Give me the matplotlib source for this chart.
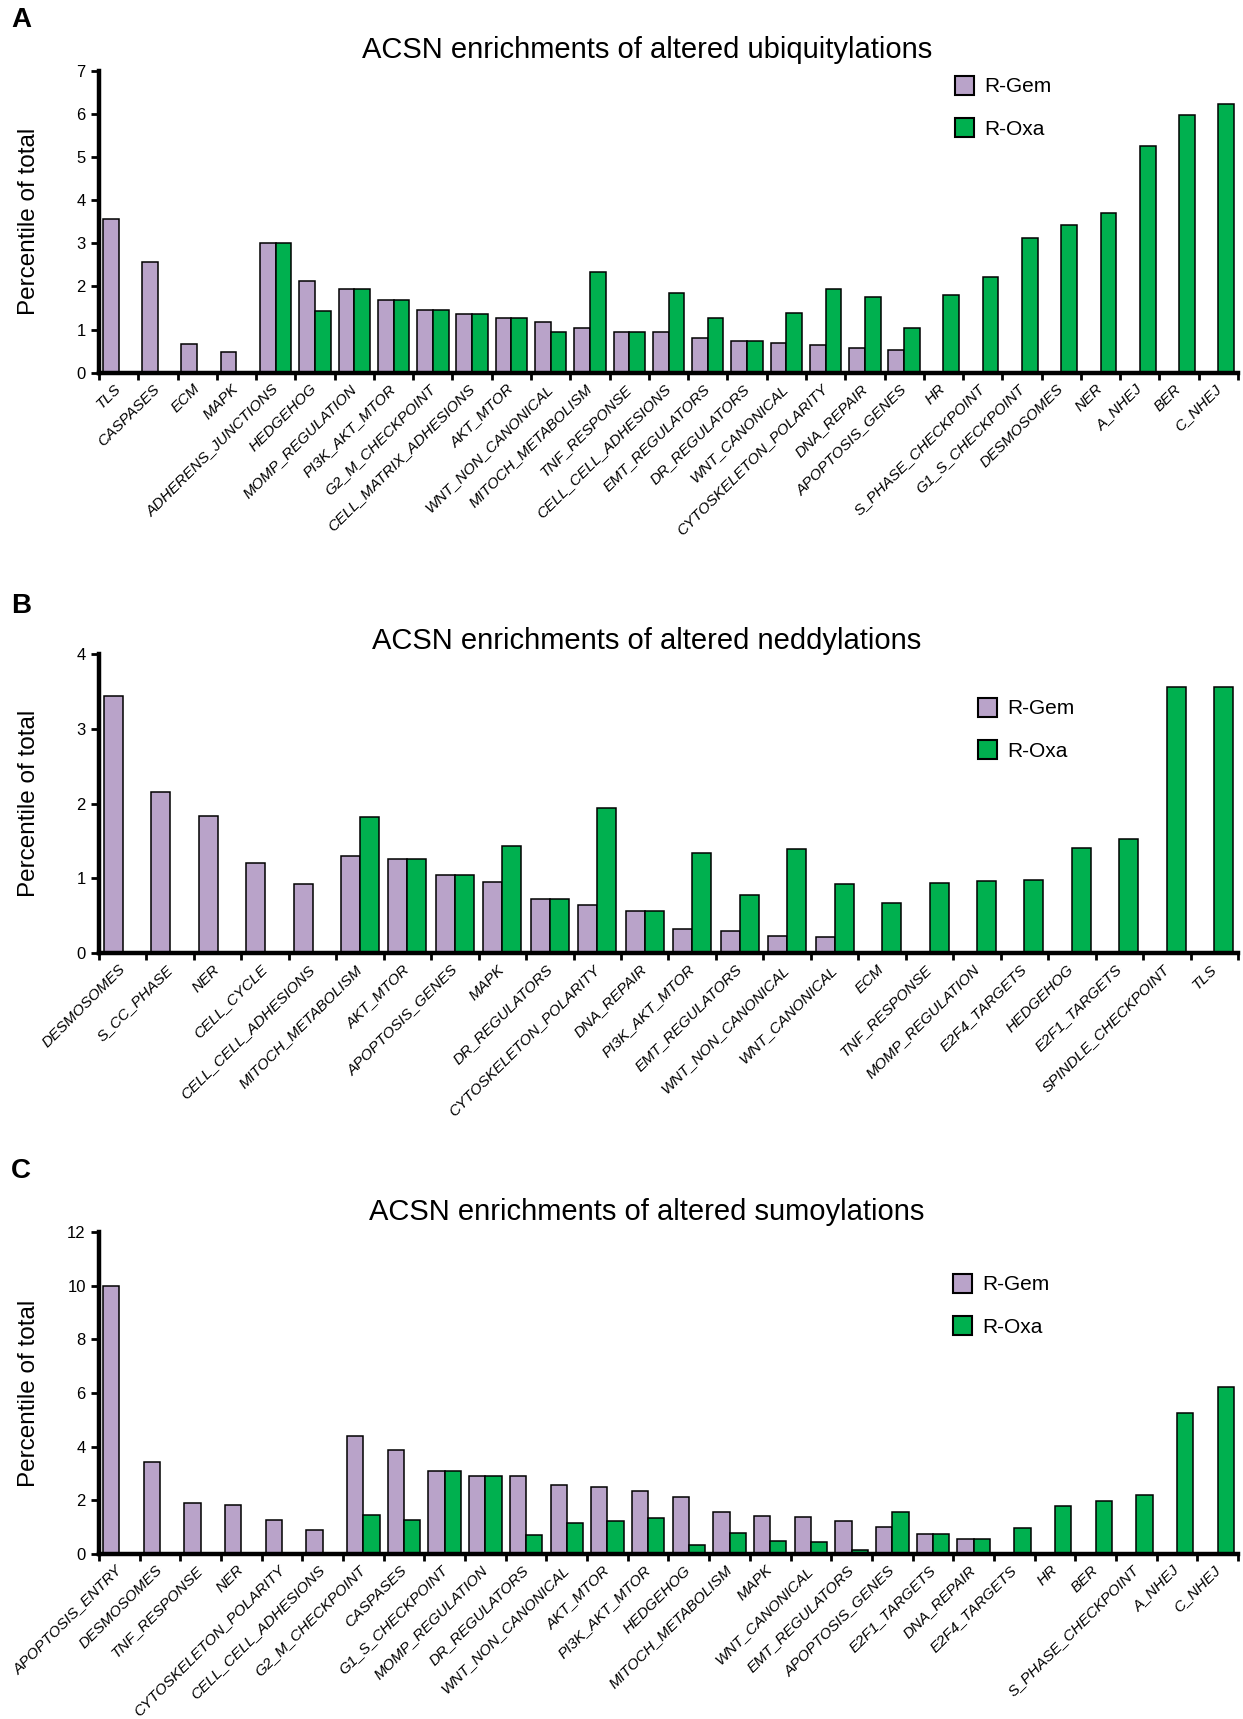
import numpy as np
import matplotlib
matplotlib.use('Agg')
import matplotlib.pyplot as plt
from matplotlib.patches import Patch

plt.rcParams['font.family'] = ['Liberation Sans', 'DejaVu Sans']

# panel A - ubiquitylations
cats_a = ['TLS', 'CASPASES', 'ECM', 'MAPK', 'ADHERENS_JUNCTIONS', 'HEDGEHOG',
          'MOMP_REGULATION', 'PI3K_AKT_MTOR', 'G2_M_CHECKPOINT', 'CELL_MATRIX_ADHESIONS',
          'AKT_MTOR', 'WNT_NON_CANONICAL', 'MITOCH_METABOLISM', 'TNF_RESPONSE',
          'CELL_CELL_ADHESIONS', 'EMT_REGULATORS', 'DR_REGULATORS', 'WNT_CANONICAL',
          'CYTOSKELETON_POLARITY', 'DNA_REPAIR', 'APOPTOSIS_GENES', 'HR',
          'S_PHASE_CHECKPOINT', 'G1_S_CHECKPOINT', 'DESMOSOMES', 'NER', 'A_NHEJ', 'BER', 'C_NHEJ']
gem_a = [3.56, 2.58, 0.67, 0.48, 3.01, 2.12, 1.95, 1.68, 1.46, 1.36, 1.26, 1.18, 1.04, 0.95,
         0.94, 0.80, 0.73, 0.70, 0.65, 0.58, 0.53, 0, 0, 0, 0, 0, 0, 0, 0]
oxa_a = [0, 0, 0, 0, 3.01, 1.42, 1.95, 1.68, 1.46, 1.36, 1.26, 0.94, 2.34, 0.95,
         1.86, 1.26, 0.73, 1.39, 1.94, 1.76, 1.04, 1.81, 2.22, 3.12, 3.43, 3.70, 5.25, 5.98, 6.23]

# panel B - neddylations
cats_b = ['DESMOSOMES', 'S_CC_PHASE', 'NER', 'CELL_CYCLE', 'CELL_CELL_ADHESIONS',
          'MITOCH_METABOLISM', 'AKT_MTOR', 'APOPTOSIS_GENES', 'MAPK', 'DR_REGULATORS',
          'CYTOSKELETON_POLARITY', 'DNA_REPAIR', 'PI3K_AKT_MTOR', 'EMT_REGULATORS',
          'WNT_NON_CANONICAL', 'WNT_CANONICAL', 'ECM', 'TNF_RESPONSE', 'MOMP_REGULATION',
          'E2F4_TARGETS', 'HEDGEHOG', 'E2F1_TARGETS', 'SPINDLE_CHECKPOINT', 'TLS']
gem_b = [3.44, 2.16, 1.84, 1.21, 0.92, 1.30, 1.26, 1.04, 0.95, 0.72, 0.64, 0.57,
         0.33, 0.30, 0.23, 0.22, 0, 0, 0, 0, 0, 0, 0, 0]
oxa_b = [0, 0, 0, 0, 0, 1.82, 1.26, 1.04, 1.43, 0.72, 1.94, 0.57,
         1.34, 0.78, 1.40, 0.92, 0.67, 0.94, 0.96, 0.98, 1.41, 1.53, 3.56, 3.56]

# panel C - sumoylations
cats_c = ['APOPTOSIS_ENTRY', 'DESMOSOMES', 'TNF_RESPONSE', 'NER', 'CYTOSKELETON_POLARITY',
          'CELL_CELL_ADHESIONS', 'G2_M_CHECKPOINT', 'CASPASES', 'G1_S_CHECKPOINT',
          'MOMP_REGULATION', 'DR_REGULATORS', 'WNT_NON_CANONICAL', 'AKT_MTOR',
          'PI3K_AKT_MTOR', 'HEDGEHOG', 'MITOCH_METABOLISM', 'MAPK', 'WNT_CANONICAL',
          'EMT_REGULATORS', 'APOPTOSIS_GENES', 'E2F1_TARGETS', 'DNA_REPAIR', 'E2F4_TARGETS',
          'HR', 'BER', 'S_PHASE_CHECKPOINT', 'A_NHEJ', 'C_NHEJ']
gem_c = [10.0, 3.42, 1.89, 1.83, 1.27, 0.91, 4.39, 3.88, 3.09, 2.91, 2.89, 2.56, 2.51, 2.34,
         2.11, 1.55, 1.43, 1.37, 1.24, 1.02, 0.75, 0.56, 0, 0, 0, 0, 0, 0]
oxa_c = [0, 0, 0, 0, 0, 0, 1.45, 1.27, 3.09, 2.91, 0.70, 1.16, 1.24, 1.33,
         0.34, 0.77, 0.47, 0.43, 0.15, 1.55, 0.75, 0.56, 0.97, 1.80, 1.96, 2.20, 5.24, 6.24]

GEM = '#b9a3c9'
OXA = '#00b04f'
H = 1719.0
W = 1243.0


def panel(rect, cats, gem, oxa, ymax, ystep, title, title_y, letter, letter_y, leg_xy):
    ax = fig.add_axes(rect)
    n = len(cats)
    x = np.arange(n)
    w = 0.4
    ax.bar(x - w / 2, gem, w, color=GEM, edgecolor='black', linewidth=1.1)
    ax.bar(x + w / 2, oxa, w, color=OXA, edgecolor='black', linewidth=1.1)
    ax.set_xlim(-0.5, n - 0.5)
    ax.set_ylim(0, ymax)
    ax.set_yticks(np.arange(0, ymax + 0.01, ystep))
    ax.set_xticks(np.arange(n + 1) - 0.5)
    ax.set_xticklabels([])
    ax.set_xticks(x, minor=True)
    ax.set_xticklabels(cats, minor=True, rotation=45, ha='right', va='center',
                       rotation_mode='anchor', fontstyle='italic', fontsize=11)
    ax.tick_params(axis='x', which='minor', length=0, pad=10)
    ax.tick_params(axis='x', which='major', direction='out', length=5, width=2)
    ax.tick_params(axis='y', direction='out', length=6, width=2, labelsize=12)
    for s in ['top', 'right']:
        ax.spines[s].set_visible(False)
    for s in ['left', 'bottom']:
        ax.spines[s].set_linewidth(3.2)
    ax.set_ylabel('Percentile of total', fontsize=17.5)
    ax.yaxis.set_label_coords(-0.052, 0.5)
    fig.text(647 / W, 1 - title_y / H, title, ha='center', va='center', fontsize=21)
    fig.text(21 / W, 1 - letter_y / H, letter, ha='center', va='center',
             fontsize=20, fontweight='bold')
    handles = [Patch(facecolor=GEM, edgecolor='black', linewidth=1.5, label='R-Gem'),
               Patch(facecolor=OXA, edgecolor='black', linewidth=1.5, label='R-Oxa')]
    fig.legend(handles=handles, loc='upper left',
               bbox_to_anchor=(leg_xy[0] / W, 1 - leg_xy[1] / H),
               frameon=False, fontsize=15, handlelength=0.9, handleheight=1.0,
               handletextpad=0.5, labelspacing=1.05, borderpad=0, borderaxespad=0)
    return ax


fig = plt.figure(figsize=(12.43, 17.19), dpi=100)

panel([99 / W, 1 - 372.7 / H, 1139 / W, 301.7 / H], cats_a, gem_a, oxa_a, 7, 1,
      'ACSN enrichments of altered ubiquitylations', 50, 'A', 20, (955, 76))
panel([99 / W, 1 - 953.3 / H, 1139 / W, 299.3 / H], cats_b, gem_b, oxa_b, 4, 1,
      'ACSN enrichments of altered neddylations', 641, 'B', 606, (978, 698))
panel([99 / W, 1 - 1554 / H, 1139 / W, 322 / H], cats_c, gem_c, oxa_c, 12, 2,
      'ACSN enrichments of altered sumoylations', 1212, 'C', 1171, (953, 1274))

fig.savefig('out.png', dpi=100)
